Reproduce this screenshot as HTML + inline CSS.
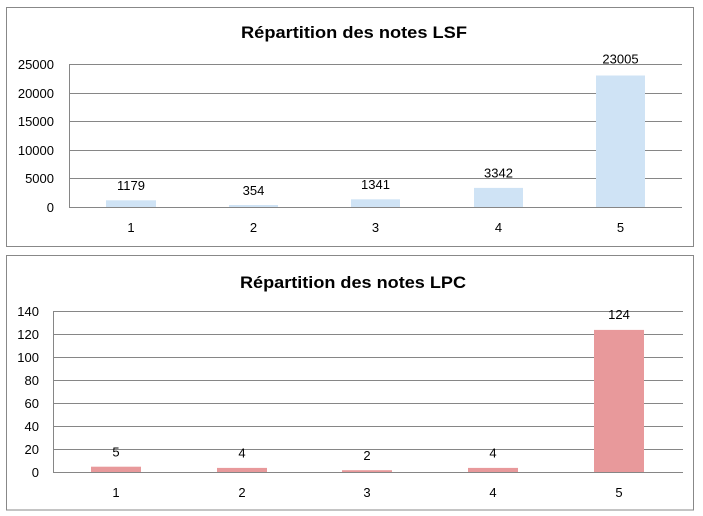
<!DOCTYPE html>
<html><head><meta charset="utf-8"><style>
html,body{margin:0;padding:0;background:#fff;}
svg{display:block;}
text{font-family:"Liberation Sans",sans-serif;fill:#000;}
</style></head><body>
<svg width="703" height="516" viewBox="0 0 703 516" xmlns="http://www.w3.org/2000/svg">
<rect x="0" y="0" width="703" height="516" fill="#fff"/>
<!-- Top chart -->
<rect x="6.5" y="7.5" width="687" height="239" fill="#fff" stroke="#888" stroke-width="1"/>
<text x="354" y="38" font-size="17" font-weight="bold" text-anchor="middle" textLength="226" lengthAdjust="spacingAndGlyphs">Répartition des notes LSF</text>
<g stroke="#868686" stroke-width="1">
<line x1="69" y1="64.5" x2="682" y2="64.5"/>
<line x1="69" y1="93.5" x2="682" y2="93.5"/>
<line x1="69" y1="121.5" x2="682" y2="121.5"/>
<line x1="69" y1="150.5" x2="682" y2="150.5"/>
<line x1="69" y1="178.5" x2="682" y2="178.5"/>
<line x1="69.5" y1="64" x2="69.5" y2="207"/>
</g>
<g fill="#cfe3f5">
<rect x="106" y="200.3" width="50" height="6.7"/>
<rect x="229" y="205" width="49" height="2"/>
<rect x="351" y="199.3" width="49" height="7.7"/>
<rect x="474" y="187.9" width="49" height="19.1"/>
<rect x="596" y="75.5" width="49" height="131.5"/>
</g>
<line x1="69" y1="207.5" x2="682" y2="207.5" stroke="#868686" stroke-width="1"/>
<g font-size="13" text-anchor="end">
<text x="54" y="69">25000</text>
<text x="54" y="98">20000</text>
<text x="54" y="126">15000</text>
<text x="54" y="155">10000</text>
<text x="54" y="183">5000</text>
<text x="54" y="212">0</text>
</g>
<g font-size="13" text-anchor="middle">
<text x="131" y="190">1179</text>
<text x="253.5" y="195">354</text>
<text x="375.5" y="189">1341</text>
<text x="498.5" y="177.5">3342</text>
<text x="620.5" y="63.5">23005</text>
<text x="131" y="232">1</text>
<text x="253.5" y="232">2</text>
<text x="375.5" y="232">3</text>
<text x="498.5" y="232">4</text>
<text x="620.5" y="232">5</text>
</g>
<!-- Bottom chart -->
<rect x="6.5" y="255.5" width="687" height="254.5" fill="#fff" stroke="#888" stroke-width="1"/>
<text x="353" y="288" font-size="17" font-weight="bold" text-anchor="middle" textLength="226" lengthAdjust="spacingAndGlyphs">Répartition des notes LPC</text>
<g stroke="#868686" stroke-width="1">
<line x1="53" y1="311.5" x2="683" y2="311.5"/>
<line x1="53" y1="334.5" x2="683" y2="334.5"/>
<line x1="53" y1="357.5" x2="683" y2="357.5"/>
<line x1="53" y1="380.5" x2="683" y2="380.5"/>
<line x1="53" y1="403.5" x2="683" y2="403.5"/>
<line x1="53" y1="426.5" x2="683" y2="426.5"/>
<line x1="53" y1="449.5" x2="683" y2="449.5"/>
<line x1="53.5" y1="311" x2="53.5" y2="472"/>
</g>
<g fill="#e8999b">
<rect x="91" y="466.7" width="50" height="5.8"/>
<rect x="217" y="467.9" width="50" height="4.6"/>
<rect x="342" y="470.2" width="50" height="2.3"/>
<rect x="468" y="467.9" width="50" height="4.6"/>
<rect x="594" y="329.9" width="50" height="142.6"/>
</g>
<line x1="53" y1="472.5" x2="683" y2="472.5" stroke="#868686" stroke-width="1"/>
<g font-size="13" text-anchor="end">
<text x="39" y="316">140</text>
<text x="39" y="339">120</text>
<text x="39" y="362">100</text>
<text x="39" y="385">80</text>
<text x="39" y="408">60</text>
<text x="39" y="431">40</text>
<text x="39" y="454">20</text>
<text x="39" y="477">0</text>
</g>
<g font-size="13" text-anchor="middle">
<text x="116" y="456.5">5</text>
<text x="242" y="457.5">4</text>
<text x="367" y="460">2</text>
<text x="493" y="457.5">4</text>
<text x="619" y="319">124</text>
<text x="116" y="497">1</text>
<text x="242" y="497">2</text>
<text x="367" y="497">3</text>
<text x="493" y="497">4</text>
<text x="619" y="497">5</text>
</g>
</svg>
</body></html>
